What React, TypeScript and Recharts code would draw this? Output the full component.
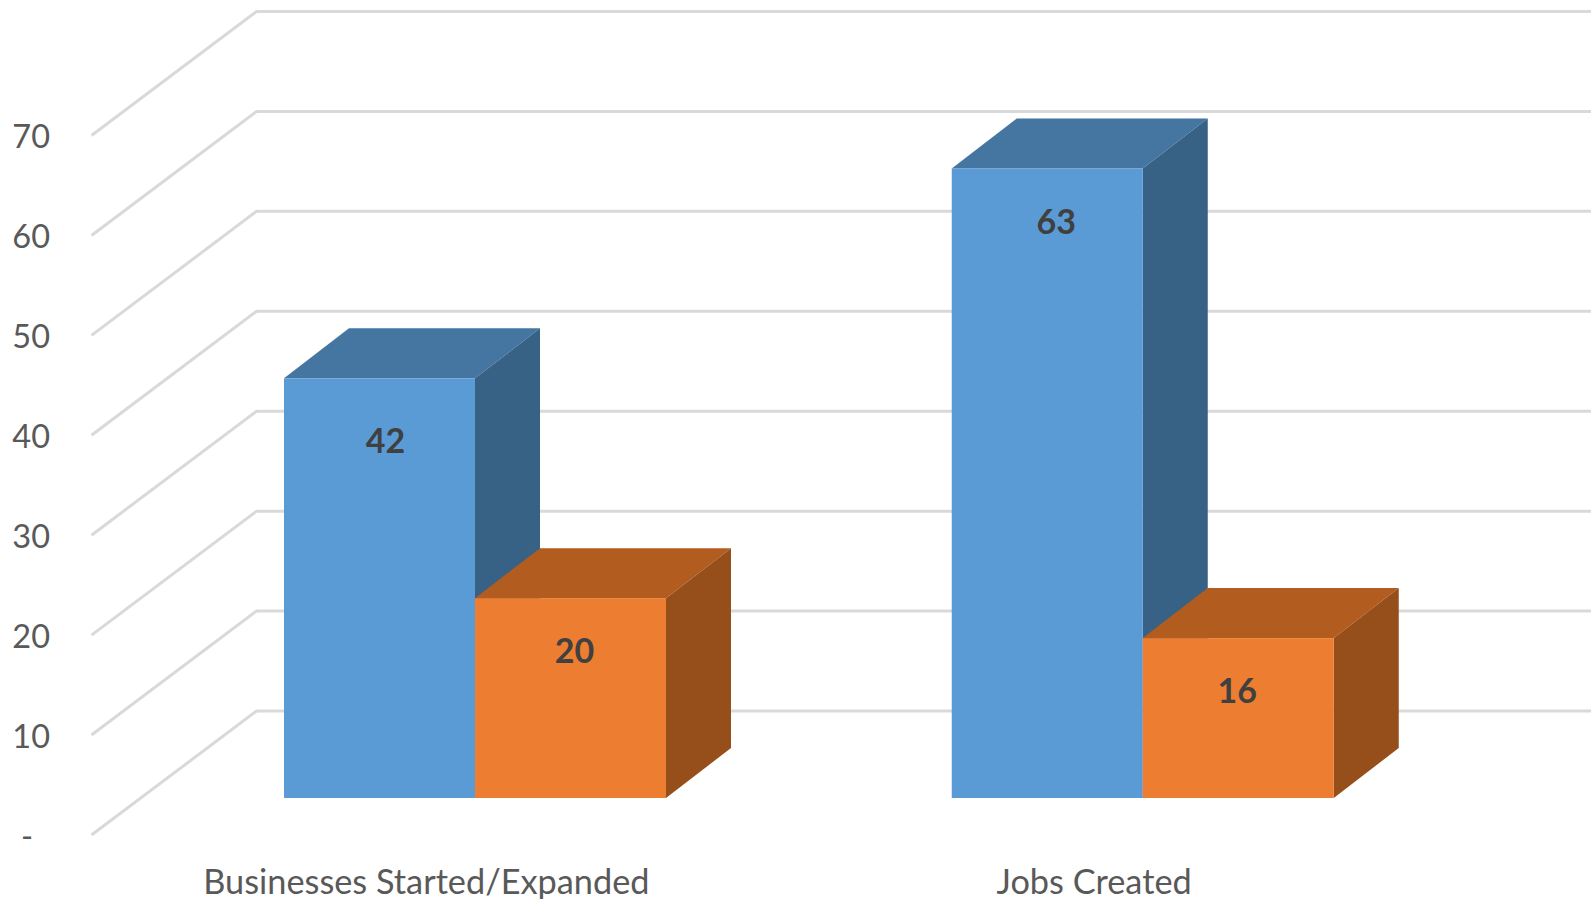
import React from "react";
import { BarChart, Bar, XAxis, YAxis, CartesianGrid, LabelList } from "recharts";

const categories = ["Businesses Started/Expanded", "Jobs Created"];
const blueValues = [42, 63];
const orangeValues = [20, 16];
const yTicks = [0, 10, 20, 30, 40, 50, 60, 70];

const rows = categories.map((name, i) => ({ name, blue: blueValues[i], orange: orangeValues[i] }));

const FONT = "Lato, Carlito, sans-serif";
const WALL_DX = 165;
const WALL_DY = 124;
const FLOOR_DX = 49.5;
const FLOOR_DY = 37;
const DEPTH_DX = 65;
const DEPTH_DY = 50;

const blueLook = { front: "#5B9BD5", top: "#4575A1", side: "#376285" };
const orangeLook = { front: "#ED7D31", top: "#B35C20", side: "#964F1A" };
const blueNudge = [{ x: 6, y: 61 }, { x: 9, y: 52 }];
const orangeNudge = [{ x: 4, y: 51 }, { x: -1, y: 51 }];

function makeBox(look: { front: string; top: string; side: string }) {
  return function Box(p: any) {
    const x = p.x + FLOOR_DX;
    const y = p.y - FLOOR_DY;
    const w = p.width;
    const h = p.height;
    const topPts = `${x},${y} ${x + DEPTH_DX},${y - DEPTH_DY} ${x + w + DEPTH_DX},${y - DEPTH_DY} ${x + w},${y}`;
    const sidePts = `${x + w},${y} ${x + w + DEPTH_DX},${y - DEPTH_DY} ${x + w + DEPTH_DX},${y + h - DEPTH_DY} ${x + w},${y + h}`;
    return (
      <g>
        <polygon points={topPts} fill={look.top} />
        <polygon points={sidePts} fill={look.side} />
        <rect x={x} y={y} width={w} height={h} fill={look.front} />
      </g>
    );
  };
}

function makeLabel(nudge: { x: number; y: number }[]) {
  return function BoxLabel(p: any) {
    const n = nudge[p.index] || { x: 0, y: 0 };
    const vb = p.viewBox || p;
    const cx = vb.x + vb.width / 2 + FLOOR_DX + n.x;
    const cy = vb.y - FLOOR_DY + n.y;
    return (
      <text x={cx} y={cy} textAnchor="middle" dominantBaseline="central" fontFamily={FONT} fontWeight={700} fontSize={34} fill="#404040">
        {p.value}
      </text>
    );
  };
}

function WallLine(p: any) {
  const { x1, x2, y1 } = p;
  const pts = `${x1},${y1} ${x1 + WALL_DX},${y1 - WALL_DY} ${x2 + WALL_DX},${y1 - WALL_DY}`;
  return <polyline key={`g${y1}`} points={pts} fill="none" stroke="#D9D9D9" strokeWidth={3} />;
}

function ValueTick(p: any) {
  const v = p.payload.value;
  return (
    <text x={v === 0 ? 33 : 50} y={p.y} textAnchor="end" dominantBaseline="central" fontFamily={FONT} fontSize={32.5} fill="#595959">
      {v === 0 ? "-" : v}
    </text>
  );
}

function NameTick(p: any) {
  return (
    <text x={p.x + 1} y={880} textAnchor="middle" dominantBaseline="central" fontFamily={FONT} fontSize={34.3} fill="#595959">
      {p.payload.value}
    </text>
  );
}

export default function App() {
  return (
    <div style={{ position: "fixed", left: 0, top: 0, width: 1591, height: 899, background: "#fff", overflow: "hidden" }}>
      <BarChart
        width={1591}
        height={899}
        data={rows}
        margin={{ top: 135.5, right: 164, bottom: 0, left: 0 }}
        barSize={191}
        barGap={0}
      >
        <CartesianGrid vertical={false} horizontal={WallLine} syncWithTicks />
        <XAxis dataKey="name" height={64} axisLine={false} tickLine={false} tick={NameTick} interval={0} />
        <YAxis width={91.5} domain={[0, 70]} ticks={yTicks} axisLine={false} tickLine={false} tick={ValueTick} interval={0} />
        <Bar dataKey="blue" isAnimationActive={false} shape={makeBox(blueLook)}>
          <LabelList dataKey="blue" content={makeLabel(blueNudge)} />
        </Bar>
        <Bar dataKey="orange" isAnimationActive={false} shape={makeBox(orangeLook)}>
          <LabelList dataKey="orange" content={makeLabel(orangeNudge)} />
        </Bar>
      </BarChart>
    </div>
  );
}
